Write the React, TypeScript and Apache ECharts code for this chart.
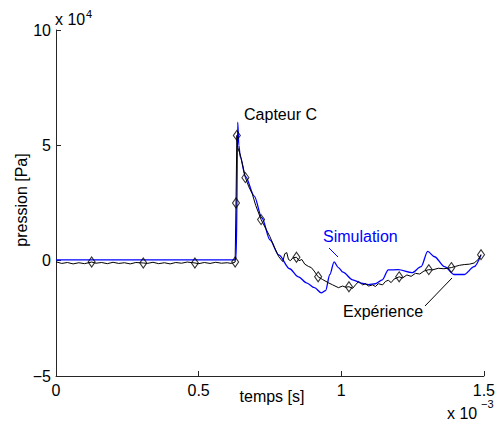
import React, { useEffect, useRef } from "react";
import * as echarts from "echarts";

// time in 1e-3 s, pressure in 1e4 Pa
const simX = [0, 0.628, 0.632, 0.637, 0.641, 0.646, 0.664, 0.695, 0.722, 0.75, 0.781, 0.819, 0.85, 0.878, 0.906, 0.93, 0.945, 0.96, 0.975, 0.99, 1.006, 1.04, 1.07, 1.096, 1.12, 1.144, 1.165, 1.2, 1.248, 1.28, 1.303, 1.327, 1.362, 1.396, 1.431, 1.466, 1.49];
const simY = [0.03, 0.03, 0.2, 6.0, 5.0, 4.5, 3.65, 2.8, 1.85, 0.9, 0.25, -0.35, -0.7, -0.96, -1.17, -1.4, -1.3, -0.6, -0.05, -0.3, -0.5, -0.83, -0.97, -1.04, -1.0, -0.83, -0.4, -0.39, -0.52, -0.26, 0.4, 0.17, -0.26, -0.6, -0.6, -0.26, 0.26];

const expX = [0, 0.02, 0.04, 0.06, 0.08, 0.1, 0.125, 0.14, 0.16, 0.18, 0.2, 0.22, 0.24, 0.26, 0.28, 0.306, 0.32, 0.34, 0.36, 0.38, 0.4, 0.42, 0.44, 0.46, 0.487, 0.5, 0.52, 0.54, 0.56, 0.58, 0.6, 0.615, 0.628, 0.631, 0.634, 0.637, 0.646, 0.655, 0.664, 0.676, 0.688, 0.7, 0.719, 0.735, 0.75, 0.765, 0.781, 0.795, 0.802, 0.809, 0.815, 0.822, 0.83, 0.843, 0.852, 0.862, 0.872, 0.885, 0.895, 0.905, 0.919, 0.935, 0.955, 0.97, 0.99, 1.005, 1.015, 1.027, 1.04, 1.05, 1.061, 1.075, 1.085, 1.096, 1.11, 1.12, 1.13, 1.145, 1.155, 1.165, 1.175, 1.185, 1.203, 1.215, 1.23, 1.245, 1.26, 1.275, 1.29, 1.307, 1.32, 1.34, 1.36, 1.386, 1.4, 1.415, 1.431, 1.45, 1.466, 1.48, 1.49];
const expY = [-0.05, -0.12, -0.08, -0.14, -0.09, -0.13, -0.06, -0.11, -0.08, -0.13, -0.07, -0.12, -0.09, -0.14, -0.08, -0.1, -0.12, -0.07, -0.13, -0.09, -0.14, -0.08, -0.11, -0.06, -0.1, -0.13, -0.08, -0.12, -0.07, -0.11, -0.09, -0.12, -0.06, 2.5, 5.43, 4.9, 4.6, 4.1, 3.6, 3.2, 2.9, 2.4, 1.78, 1.4, 1.04, 0.6, 0.17, -0.04, 0.3, 0.35, 0.05, 0.0, 0.12, 0.15, 0.0, 0.05, -0.15, -0.25, -0.3, -0.45, -0.7, -0.82, -0.96, -1.05, -1.17, -1.1, -1.15, -1.13, -1.2, -1.05, -0.9, -1.05, -1.0, -1.1, -1.05, -1.12, -1.0, -1.05, -0.9, -0.85, -0.95, -0.8, -0.7, -0.75, -0.62, -0.68, -0.55, -0.58, -0.45, -0.39, -0.4, -0.33, -0.35, -0.3, -0.25, -0.2, -0.17, -0.15, -0.1, 0.05, 0.26];

const markX = [0.125, 0.306, 0.487, 0.628, 0.631, 0.634, 0.664, 0.719, 0.843, 0.919, 1.027, 1.203, 1.307, 1.386, 1.49];
const markY = [-0.06, -0.1, -0.1, -0.06, 2.5, 5.43, 3.6, 1.78, 0.15, -0.7, -1.13, -0.7, -0.39, -0.3, 0.26];

const xTicks = [0, 0.5, 1, 1.5];
const yTicks = [-5, 0, 5, 10];

const FONT = "'Liberation Sans', Arial, Helvetica, sans-serif";

export default function App() {
  const ref = useRef<HTMLDivElement>(null);
  useEffect(() => {
    if (!ref.current) return;
    const chart = echarts.init(ref.current, null, { renderer: "svg" });
    const zip = (xs: number[], ys: number[]) => xs.map((x, i) => [x, ys[i]]);
    const txt = (x: number, y: number, text: string, opts: any = {}) => ({
      type: "text",
      x,
      y,
      rotation: opts.rotation || 0,
      style: {
        text,
        fill: opts.color || "#000",
        font: `${opts.size || 16}px ${FONT}`,
        align: opts.align || "left",
        verticalAlign: "middle",
      },
    });
    chart.setOption({
      animation: false,
      backgroundColor: "#fff",
      grid: { left: 56, right: 9, top: 30, bottom: 47 },
      xAxis: {
        type: "value",
        min: xTicks[0],
        max: xTicks[xTicks.length - 1],
        interval: 0.5,
        splitLine: { show: false },
        axisLine: { onZero: false, lineStyle: { color: "#262626", width: 1 } },
        axisTick: { inside: true, length: 5, lineStyle: { color: "#262626" } },
        axisLabel: {
          color: "#000",
          fontSize: 16,
          fontFamily: FONT,
          margin: 6,
          formatter: (v: number) => String(v),
        },
      },
      yAxis: {
        type: "value",
        min: yTicks[0],
        max: yTicks[yTicks.length - 1],
        interval: 5,
        splitLine: { show: false },
        axisLine: { onZero: false, lineStyle: { color: "#262626", width: 1 } },
        axisTick: { inside: true, length: 5, lineStyle: { color: "#262626" } },
        axisLabel: {
          color: "#000",
          fontSize: 16,
          fontFamily: FONT,
          margin: 5,
          formatter: (v: number) => String(v).replace("-", "\u2212"),
        },
      },
      series: [
        {
          type: "line",
          data: zip(simX, simY),
          showSymbol: false,
          smooth: 0.3,
          smoothMonotone: "x",
          lineStyle: { color: "#0000ff", width: 1.3 },
          z: 2,
        },
        {
          type: "line",
          data: zip(expX, expY),
          showSymbol: false,
          lineStyle: { color: "#000", width: 1 },
          z: 3,
        },
        {
          type: "scatter",
          data: zip(markX, markY),
          symbol: "diamond",
          symbolSize: [7, 10],
          itemStyle: { color: "none", borderColor: "#000", borderWidth: 1.1 },
          z: 4,
        },
      ],
      graphic: [
        txt(55, 19.5, "x 10"),
        txt(86, 13.5, "4", { size: 11 }),
        txt(447, 413, "x 10"),
        txt(481, 403.5, "\u22123", { size: 11 }),
        txt(272, 396, "temps [s]", { align: "center" }),
        { ...txt(21, 200, "pression [Pa]", { align: "center" }), rotation: Math.PI / 2 },
        txt(280.5, 114, "Capteur C", { align: "center" }),
        txt(323, 236, "Simulation", { color: "#0000ff" }),
        {
          type: "line",
          shape: { x1: 329, y1: 248, x2: 338, y2: 257 },
          style: { stroke: "#0000ff", lineWidth: 1 },
        },
        txt(343, 311, "Expérience"),
        {
          type: "line",
          shape: { x1: 425, y1: 306, x2: 452, y2: 278 },
          style: { stroke: "#000", lineWidth: 1 },
        },
      ],
    });
    return () => chart.dispose();
  }, []);
  return (
    <div
      ref={ref}
      style={{ position: "fixed", left: 0, top: 0, width: 498, height: 423 }}
    />
  );
}
